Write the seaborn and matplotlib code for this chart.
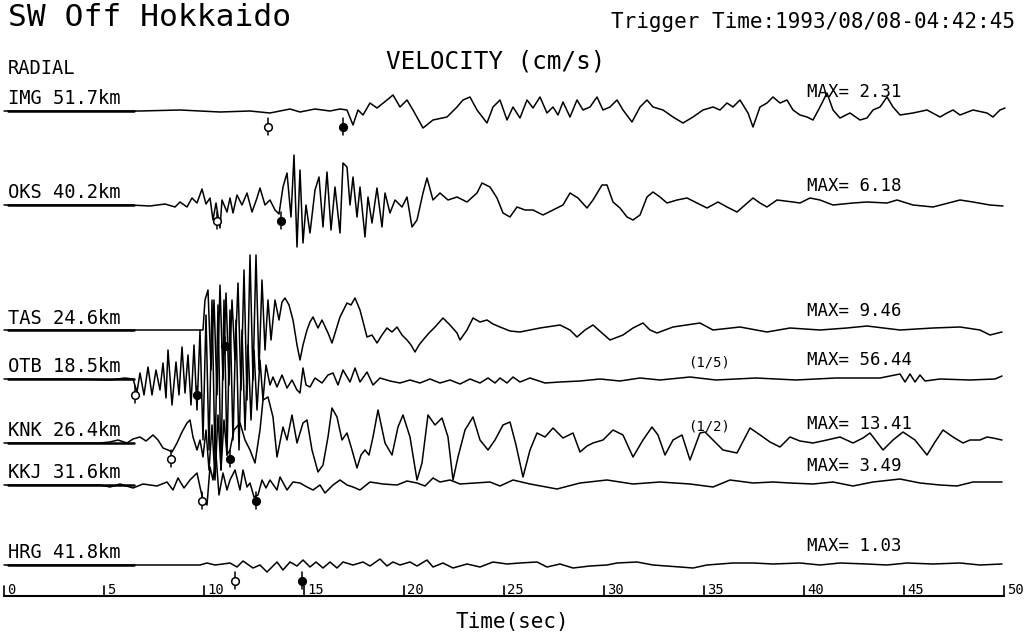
import matplotlib
matplotlib.use('Agg')
import matplotlib.pyplot as plt
import seaborn as sns
import pandas as pd

#%% Station info
stations = ['IMG', 'OKS', 'TAS', 'OTB', 'KNK', 'KKJ', 'HRG']
distances = ['51.7', '40.2', '24.6', '18.5', '26.4', '31.6', '41.8']
max_vel = ['2.31', '6.18', '9.46', '56.44', '13.41', '3.49', '1.03']
scale_notes = {'OTB': '(1/5)', 'KNK': '(1/2)'}

# P (open) and S (filled) arrival picks, seconds after trigger
p_times = [13.2, 10.65, None, 6.55, 8.35, 9.9, 11.55]
s_times = [16.95, 13.85, 11.05, 9.65, 11.3, 12.6, 14.9]

#%% Digitized traces: (time in s, deflection, up positive)
img = [(0, 0), (6.8, 0), (8.8, 1), (10.8, -1), (12.3, 0), (13.3, -2), (14.3, 2), (14.8, -1), (15.55, 2),
       (16.3, 0), (16.8, 2), (17.15, 1), (17.45, -14), (17.7, 1), (17.95, -4), (18.3, 8), (18.65, 3),
       (19.15, 11), (19.45, 16), (19.8, 4), (20.15, 11), (20.45, 1), (20.95, -17), (21.45, -9), (22.15, -6),
       (22.65, 4), (22.95, 11), (23.3, 14), (23.65, 1), (24.15, -12), (24.45, 4), (24.8, 11), (25.15, -9),
       (25.45, 4), (25.8, -7), (26.15, 11), (26.45, 3), (26.8, 14), (27.15, -2), (27.45, 4), (27.7, -4),
       (27.95, 9), (28.3, -6), (28.65, 11), (28.95, 1), (29.3, 4), (29.65, 14), (29.95, 1), (30.3, 4),
       (30.65, 11), (30.95, 1), (31.4, -11), (31.8, 4), (32.15, 11), (32.45, 4), (32.95, 1), (33.45, -6),
       (33.95, -12), (34.45, -6), (34.95, 1), (35.45, 4), (35.8, 1), (36.15, 8), (36.45, 4), (36.8, 11),
       (37.2, -2), (37.45, -16), (37.8, 4), (38.15, 8), (38.45, 14), (38.8, 8), (39.15, 11), (39.45, 1),
       (39.8, -4), (40.15, -6), (40.45, -9), (40.8, 4), (41.15, 18), (41.45, 1), (41.8, -7), (42.3, -2),
       (42.8, -9), (43.15, -7), (43.45, 1), (43.8, 4), (44.15, 14), (44.45, 4), (44.8, -4), (45.45, -2),
       (46.15, 1), (46.8, -6), (47.15, -2), (47.45, 1), (47.8, -4), (48.45, 1), (49.15, -2), (49.45, -6),
       (49.8, 1), (50.05, 3)]

oks = [(0, 0), (6.3, 0), (7.3, -1), (8.05, 1), (8.55, -2), (8.8, 3), (9.15, -2), (9.4, 7), (9.65, 2),
       (9.9, 16), (10.1, 1), (10.3, 7), (10.45, -15), (10.6, 2), (10.8, -23), (10.9, 5), (11.15, -7),
       (11.3, 7), (11.45, -8), (11.65, 10), (11.9, 0), (12.15, 12), (12.4, -7), (12.65, 7), (12.8, 17),
       (13.05, 0), (13.3, 5), (13.55, -5), (13.75, -9), (13.95, 18), (14.15, 32), (14.35, -12), (14.5, 50),
       (14.65, -42), (14.8, 35), (14.95, -38), (15.1, 0), (15.3, -28), (15.55, 15), (15.75, 28),
       (15.95, -22), (16.15, 33), (16.35, -25), (16.55, 18), (16.8, -28), (16.95, 42), (17.15, 38),
       (17.3, 0), (17.45, 28), (17.65, -12), (17.8, 18), (18.05, -32), (18.2, 8), (18.4, -18), (18.65, 17),
       (18.9, -22), (19.05, 12), (19.3, -8), (19.55, 5), (19.9, -2), (20.15, 8), (20.4, -22), (20.65, -15),
       (20.95, 12), (21.15, 27), (21.45, 5), (21.8, 12), (22.2, 5), (22.65, 8), (23.15, 3), (23.65, 12),
       (23.9, 22), (24.3, 18), (24.65, 7), (24.95, -8), (25.3, -12), (25.65, -2), (26.05, -5), (26.45, -5),
       (26.95, -10), (27.45, -5), (27.95, 0), (28.3, 12), (28.7, 7), (29.15, -3), (29.45, 5), (29.9, 20),
       (30.15, 20), (30.45, 3), (30.8, -3), (31.15, -12), (31.45, -15), (31.8, -10), (32.15, 8), (32.45, 13),
       (32.8, 8), (33.15, 2), (33.65, 5), (34.15, 7), (34.65, 2), (35.15, -3), (35.7, 3), (36.15, -2),
       (36.65, -7), (37.45, 7), (37.8, 2), (38.15, -2), (38.65, 5), (39.45, 3), (39.8, 2), (40.3, 7),
       (40.8, 5), (41.45, 0), (42.45, 2), (43.15, 3), (44.15, 2), (44.65, 5), (45.45, 0), (46.45, -2),
       (47.8, 5), (48.45, 3), (49.3, 0), (49.95, -1)]

tas = [(0, 0), (9.95, 0), (10.05, 30), (10.2, 40), (10.35, -40), (10.5, 30), (10.65, -65), (10.8, 45),
       (10.95, -50), (11.1, 37), (11.25, -55), (11.4, 30), (11.55, -30), (11.7, 47), (11.85, -60), (12.0, 60),
       (12.15, -70), (12.3, 75), (12.45, -50), (12.6, 75), (12.75, -40), (12.9, 50), (13.05, -20), (13.2, 30),
       (13.35, -10), (13.55, 30), (13.75, 10), (13.9, 28), (14.05, 32), (14.25, 25), (14.45, 10),
       (14.65, -15), (14.8, -30), (14.95, -15), (15.15, 0), (15.3, 8), (15.45, 13), (15.7, 2), (15.9, 10),
       (16.2, -3), (16.4, -13), (16.6, 0), (16.8, 13), (17.15, 27), (17.35, 25), (17.55, 32), (17.8, 20),
       (18.15, -7), (18.4, -5), (18.65, -13), (18.9, -5), (19.15, 2), (19.4, -2), (19.65, 3), (19.9, -5),
       (20.15, -10), (20.35, -15), (20.55, -22), (20.75, -15), (20.95, -10), (21.25, -3), (21.55, 3),
       (21.95, 12), (22.3, 5), (22.65, -3), (22.8, -10), (23.15, 0), (23.45, 12), (23.8, 8), (24.15, 10),
       (24.45, 6), (24.8, 3), (25.3, -1), (25.8, -2), (26.8, 2), (27.8, 5), (28.3, 0), (28.65, -7),
       (29.05, 0), (29.45, 5), (29.9, -3), (30.3, -10), (30.95, -5), (31.45, 2), (31.95, 7), (32.3, 0),
       (32.65, -3), (33.45, 3), (34.8, 7), (35.45, 0), (36.8, 3), (38.15, -2), (39.3, 2), (40.8, 0),
       (42.15, 2), (43.15, 4), (44.8, 0), (46.45, 2), (47.8, 3), (48.8, 0), (49.3, -5), (49.9, -2)]

otb = [(0, 0), (3.8, 0), (5.3, -1), (6.05, 1), (6.45, 0), (6.65, -13), (6.8, 6), (7.0, -16), (7.2, 12),
       (7.4, -16), (7.6, 9), (7.8, -11), (7.95, 16), (8.1, -19), (8.2, 29), (8.4, -26), (8.6, 17),
       (8.75, -16), (8.9, 32), (9.05, -14), (9.2, 24), (9.35, -26), (9.5, 34), (9.65, -31), (9.8, 49),
       (9.95, -61), (10.1, 64), (10.25, -71), (10.4, 79), (10.55, -81), (10.7, 74), (10.85, -91), (11.0, 79),
       (11.15, -76), (11.3, 69), (11.45, -61), (11.6, 59), (11.75, -71), (11.9, 49), (12.05, -51),
       (12.2, 34), (12.35, -41), (12.5, 29), (12.65, -31), (12.8, 19), (12.95, -21), (13.1, 14), (13.3, -6),
       (13.45, 2), (13.65, -8), (13.9, 4), (14.15, -9), (14.4, -1), (14.65, -11), (14.8, -14), (14.95, 11),
       (15.1, -6), (15.3, -8), (15.55, 1), (15.9, -4), (16.2, 4), (16.45, 6), (16.7, -6), (16.95, 9),
       (17.3, -3), (17.55, 11), (17.8, -3), (18.15, 7), (18.45, -6), (18.8, 1), (19.3, -2), (19.8, -4),
       (20.3, -1), (20.8, -4), (21.3, 0), (21.8, -4), (22.3, -1), (22.8, -5), (23.3, 0), (23.8, -4),
       (24.2, 1), (24.55, -4), (24.8, 1), (25.15, -4), (25.45, 2), (25.8, -3), (26.3, 1), (27.05, -4),
       (27.8, -3), (28.8, -2), (29.8, 0), (30.8, -2), (31.8, 1), (32.8, -1), (34.3, 2), (35.6, -1),
       (37.6, 1), (39.6, -1), (41.6, 1), (43.8, 1), (44.8, 5), (45.05, -3), (45.3, 5), (45.55, -3),
       (45.8, 4), (46.05, -2), (46.8, 0), (48.3, -1), (49.55, 0), (49.9, 3)]

knk = [(0, 0), (4.8, 0), (5.3, 1), (5.7, 3), (6.15, 0), (6.45, 4), (6.8, 6), (7.1, 2), (7.45, 8), (7.7, 3),
       (7.95, -5), (8.2, -7), (8.4, -9), (8.65, 0), (8.9, 11), (9.15, 20), (9.3, 23), (9.45, 6), (9.65, -7),
       (9.8, 3), (9.95, -14), (10.1, 13), (10.25, -27), (10.4, 18), (10.55, -37), (10.7, 28), (10.85, -27),
       (11.0, 23), (11.15, -12), (11.3, -7), (11.5, 13), (11.8, 20), (12.05, 3), (12.3, -7), (12.55, -20),
       (12.8, 13), (12.95, 43), (13.2, 46), (13.45, 26), (13.65, -14), (13.95, 16), (14.15, 3), (14.4, 28),
       (14.65, 0), (14.95, 20), (15.15, 23), (15.4, -7), (15.7, -29), (15.95, -22), (16.2, 6), (16.4, 35),
       (16.65, 26), (16.9, 3), (17.15, 10), (17.4, -7), (17.65, -25), (17.85, -12), (18.05, -7),
       (18.25, -12), (18.45, 6), (18.7, 33), (19.05, 0), (19.4, -12), (19.7, 16), (19.95, 28), (20.3, 6),
       (20.65, -37), (20.9, -20), (21.2, 28), (21.55, 18), (21.9, 25), (22.2, 6), (22.45, -37), (22.7, -14),
       (23.05, 13), (23.45, 26), (23.8, 3), (24.2, -7), (24.55, 3), (24.95, 18), (25.3, 21), (25.6, -2),
       (25.95, -34), (26.3, -7), (26.65, 10), (27.05, 6), (27.45, 15), (27.95, 5), (28.45, 10), (28.8, -9),
       (29.15, -3), (29.45, 0), (29.95, 3), (30.45, 13), (30.95, 8), (31.45, -14), (31.95, 3), (32.4, 16),
       (32.7, 8), (33.05, -12), (33.45, 3), (33.9, 8), (34.3, -17), (34.8, 10), (35.05, 11), (35.45, 3),
       (35.95, -7), (36.65, -10), (37.3, 15), (37.95, 6), (38.3, 1), (38.8, -4), (39.3, 6), (39.8, 2),
       (40.45, 0), (41.15, 3), (41.8, 6), (42.45, 0), (42.95, 5), (43.3, 10), (43.95, -7), (44.45, 3),
       (44.95, 11), (45.55, 3), (46.15, -12), (46.55, 1), (46.95, 13), (47.45, 6), (47.95, 0), (48.3, 3),
       (48.8, 3), (49.15, 6), (49.45, 5), (49.9, 3)]

kkj = [(0, 0), (4.8, 0), (5.3, -2), (5.8, 1), (6.45, -3), (6.95, 1), (7.65, -1), (8.15, 3), (8.45, -5),
       (8.7, 7), (9.0, -3), (9.3, 5), (9.65, 12), (9.8, -2), (9.95, -15), (10.15, -20), (10.3, 18), (10.45, 5),
       (10.6, 30), (10.75, -10), (10.95, 12), (11.15, -5), (11.3, 5), (11.55, 15), (11.8, -5), (11.95, 15),
       (12.15, -2), (12.3, 2), (12.5, -12), (12.7, -10), (12.9, 5), (13.1, -3), (13.3, 5), (13.65, -5),
       (13.8, 8), (14.15, -5), (14.45, 3), (14.8, 2), (15.15, -2), (15.45, -5), (15.8, 0), (16.05, -8),
       (16.45, 0), (16.8, 5), (17.15, 0), (17.45, -2), (17.8, -5), (18.3, 3), (18.95, 1), (19.65, 0),
       (20.15, 4), (20.65, 2), (21.05, -1), (21.45, 7), (21.8, 3), (22.3, 5), (22.8, 1), (23.55, 2),
       (24.3, 3), (24.8, -1), (25.45, 5), (26.3, 1), (27.65, -4), (28.8, 2), (30.15, 5), (31.45, 1),
       (32.8, 3), (34.3, 1), (35.45, -2), (36.3, 5), (37.45, 2), (38.45, 3), (39.3, 2), (40.45, 1),
       (41.45, 3), (42.45, -1), (43.45, 3), (44.8, 6), (45.8, 2), (46.8, 0), (47.65, -1), (48.45, 3),
       (49.9, 3)]

hrg = [(0, 0), (9.8, 0), (10.15, 2), (10.55, 0), (10.95, 1), (11.3, 2), (11.65, -2), (11.95, 4),
       (12.45, -3), (12.8, 0), (13.15, -7), (13.65, 3), (13.95, -5), (14.3, 3), (14.65, -1), (14.95, 5),
       (15.3, -2), (15.6, 3), (15.95, -3), (16.3, 3), (16.65, -3), (16.95, 3), (17.45, 0), (17.95, 3),
       (18.3, -1), (18.8, 6), (19.15, -1), (19.45, 3), (19.8, 0), (20.3, 3), (20.65, -1), (21.15, 5),
       (21.45, -2), (21.95, 2), (22.45, -3), (23.15, 1), (23.8, -2), (24.45, 3), (25.15, 1), (25.8, 2),
       (26.65, 3), (27.15, -2), (27.8, 1), (28.45, -3), (29.3, -1), (30.15, 0), (30.65, 2), (31.65, 3),
       (32.45, 0), (33.8, -2), (34.45, -3), (35.15, 0), (36.45, 2), (37.45, 2), (38.45, 1), (39.8, 2),
       (40.8, 0), (41.8, 2), (43.15, 1), (44.15, 0), (45.15, 2), (46.45, 1), (47.8, 2), (48.8, 0),
       (49.9, 1)]

traces = dict(zip(stations, [img, oks, tas, otb, knk, kkj, hrg]))

#%% Layout (page rows in pixels)
baseline = dict(zip(stations, [111, 205, 330, 379, 443, 485, 565]))
axis_y = 596
mono = 'DejaVu Sans Mono'

rows = []
for st, tr in traces.items():
    for t, a in tr:
        rows.append({'station': st, 'time': t, 'y': baseline[st] - a})
df = pd.DataFrame(rows)

sns.set_style('white')
plt.rcParams['font.family'] = [mono, 'DejaVu Sans']
plt.rcParams['text.color'] = 'black'

fig = plt.figure(figsize=(10.3, 6.33), dpi=100)
ax = fig.add_axes([0, 0, 1, 1])
ax.set_xlim(-0.2, 51.3)
ax.set_ylim(633, 0)
ax.axis('off')

sns.lineplot(data=df, x='time', y='y', units='station', estimator=None, sort=False,
             color='black', lw=1.1, ax=ax, legend=False)

#%% Labels, underlines, MAX values, picks
for i, st in enumerate(stations):
    b = baseline[st]
    ax.text(0.2, b - 12, '%s %skm' % (st, distances[i]), fontsize=13.5, va='center', ha='left')
    ax.plot([0.2, 6.5], [b, b], color='black', lw=1.8)
    ax.text(40.15, b - 19, 'MAX= %s' % max_vel[i], fontsize=12.5, va='center', ha='left')
    if st in scale_notes:
        ax.text(34.2, b - 17, scale_notes[st], fontsize=10, va='center', ha='left')
    for tp, filled in [(p_times[i], False), (s_times[i], True)]:
        if tp is None:
            continue
        ax.plot([tp, tp], [b + 7, b + 24], color='black', lw=1.1)
        ax.plot(tp, b + 16, 'o', ms=5.5, mec='black', mew=1.1,
                mfc='black' if filled else 'white')

#%% Header text
ax.text(0.2, 18, 'SW Off Hokkaido', fontsize=22.5, va='center', ha='left')
ax.text(50.55, 22, 'Trigger Time:1993/08/08-04:42:45', fontsize=15, va='center', ha='right')
ax.text(0.2, 68, 'RADIAL', fontsize=13.5, va='center', ha='left')
ax.text(19.1, 62, 'VELOCITY (cm/s)', fontsize=17.5, va='center', ha='left')

#%% Time axis
ax.plot([0, 50], [axis_y, axis_y], color='black', lw=1.5)
for tk in range(0, 51, 5):
    ax.plot([tk, tk], [axis_y, axis_y - 10], color='black', lw=1.2)
    ax.text(tk + 0.15, axis_y - 6, str(tk), fontsize=10, va='center', ha='left')
ax.text(25.4, 622, 'Time(sec)', fontsize=15, va='center', ha='center')

plt.savefig('out.png', dpi=100, facecolor='white')
